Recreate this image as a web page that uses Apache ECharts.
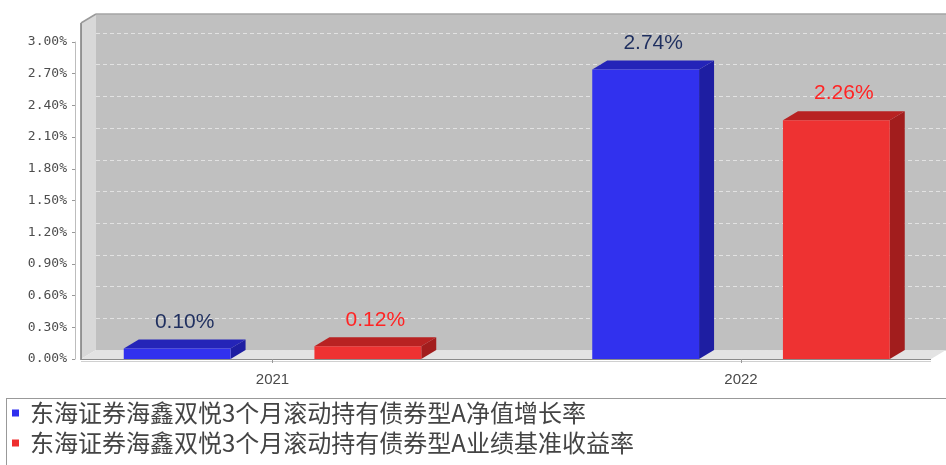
<!DOCTYPE html>
<html>
<head>
<meta charset="utf-8">
<script src="https://cdn.jsdelivr.net/npm/echarts@6/dist/echarts.min.js"></script>
<style>html,body{margin:0;padding:0;background:#fff;}#c{width:946px;height:465px;}</style>
</head>
<body>
<div id="c"></div>
<script>
const categories = ['2021', '2022'];
const seriesNames = ['东海证券海鑫双悦3个月滚动持有债券型A净值增长率', '东海证券海鑫双悦3个月滚动持有债券型A业绩基准收益率'];
const navGrowth = [0.10, 2.74];
const benchmark = [0.12, 2.26];
const yTicks = { min: 0, max: 3.0, interval: 0.3 };

const DX = 15, DY = -9;

function make3D(sign, front, top, side, labelColor) {
  return function (params, api) {
    const ci = api.value(0), v = api.value(1);
    const pTop = api.coord([ci, v]);
    const pBase = api.coord([ci, 0]);
    const band = api.size([1, 0])[0];
    const w = band * 0.228;
    const cx = pTop[0] + sign * band * 0.2035;
    const x0 = cx - w / 2, x1 = cx + w / 2, yT = pTop[1], yB = pBase[1];
    return {
      type: 'group',
      children: [
        { type: 'polygon', shape: { points: [[x1, yT], [x1 + DX, yT + DY], [x1 + DX, yB + DY], [x1, yB]] }, style: { fill: side } },
        { type: 'polygon', shape: { points: [[x0, yT], [x0 + DX, yT + DY], [x1 + DX, yT + DY], [x1, yT]] }, style: { fill: top } },
        { type: 'rect', shape: { x: x0, y: yT, width: w, height: yB - yT }, style: { fill: front } },
        { type: 'text', x: cx + DX / 2, y: yT - 16,
          style: { text: v.toFixed(2) + '%', fill: labelColor, font: '21px "Liberation Sans", Arial, sans-serif', textAlign: 'center', textVerticalAlign: 'bottom' } }
      ]
    };
  };
}

const chart = echarts.init(document.getElementById('c'));
chart.setOption({
  animation: false,
  backgroundColor: '#fff',
  graphic: [
    { type: 'rect', z: -10, shape: { x: 96, y: 14, width: 850, height: 336 }, style: { fill: '#c0c0c0' } },
    { type: 'polygon', z: -9, shape: { points: [[81, 23], [96, 14], [96, 350], [81, 359]] }, style: { fill: '#d8d8d8' } },
    { type: 'polygon', z: -9, shape: { points: [[81, 359], [96, 350], [946, 350], [931, 359]] }, style: { fill: '#e3e3e3' } },
    { type: 'line', z: -8, shape: { x1: 81, y1: 23, x2: 81, y2: 360 }, style: { stroke: '#7a7a7a', lineWidth: 1.5 } },
    { type: 'line', z: -8, shape: { x1: 81, y1: 23, x2: 96, y2: 14 }, style: { stroke: '#9a9a9a', lineWidth: 1.5 } },
    { type: 'line', z: -8, shape: { x1: 96, y1: 14, x2: 946, y2: 14 }, style: { stroke: '#a5a5a5', lineWidth: 1.5 } },
    { type: 'line', z: -8, shape: { x1: 81, y1: 359.5, x2: 931, y2: 359.5 }, style: { stroke: '#8a8a8a', lineWidth: 1.2 } },
    { type: 'line', z: -8, shape: { x1: 81, y1: 361.5, x2: 931, y2: 361.5 }, style: { stroke: '#d0d0d0', lineWidth: 1 } },
    { type: 'line', z: -8, shape: { x1: 6, y1: 398.5, x2: 946, y2: 398.5 }, style: { stroke: '#999', lineWidth: 1 } },
    { type: 'line', z: -8, shape: { x1: 6.5, y1: 398, x2: 6.5, y2: 465 }, style: { stroke: '#999', lineWidth: 1 } }
  ],
  grid: [
    { left: 272.5, right: 205, top: 42, bottom: 106 },
    { left: 75, right: 14, top: 42, bottom: 106 },
    { left: 96, right: 0, top: 33, bottom: 115 }
  ],
  xAxis: [
    { gridIndex: 0, type: 'category', data: categories, boundaryGap: false,
      axisLine: { show: false },
      axisTick: { show: true, length: 4, lineStyle: { color: '#999' } },
      axisLabel: { margin: 13, color: '#4a4a4a', fontSize: 15, fontFamily: '"Liberation Sans", Arial, sans-serif' } },
    { gridIndex: 1, type: 'category', data: categories, show: false },
    { gridIndex: 2, type: 'category', data: categories, show: false }
  ],
  yAxis: [
    { gridIndex: 0, type: 'value', min: yTicks.min, max: yTicks.max, interval: yTicks.interval, show: false },
    { gridIndex: 1, type: 'value', min: yTicks.min, max: yTicks.max, interval: yTicks.interval,
      axisLine: { show: true, lineStyle: { color: '#bdbdbd' } },
      axisTick: { show: true, length: 3, lineStyle: { color: '#999' } },
      splitLine: { show: false },
      axisLabel: { margin: 8, color: '#4d4d4d', fontSize: 13, fontFamily: '"DejaVu Sans Mono", monospace',
        formatter: v => v.toFixed(2) + '%' } },
    { gridIndex: 2, type: 'value', min: yTicks.min, max: yTicks.max, interval: yTicks.interval,
      axisLine: { show: false }, axisTick: { show: false }, axisLabel: { show: false },
      splitLine: { show: true, lineStyle: { color: '#e2e2e2', type: [4, 3], width: 1 } } }
  ],
  legend: {
    orient: 'vertical', left: 12, top: 401, padding: 0, itemGap: 6,
    itemWidth: 7, itemHeight: 7, icon: 'rect', selectedMode: false,
    data: seriesNames,
    textStyle: { fontSize: 24, lineHeight: 24, color: '#444', padding: [0, 0, 0, 6],
      fontFamily: '"Noto Sans CJK SC", sans-serif' }
  },
  series: [
    { name: seriesNames[0], type: 'custom', xAxisIndex: 0, yAxisIndex: 0,
      itemStyle: { color: '#2f2fee' },
      encode: { x: 0, y: 1 },
      data: navGrowth.map((v, i) => [i, v]),
      renderItem: make3D(-1, '#3131ee', '#2424b8', '#1e1ea2', '#1f2f5f') },
    { name: seriesNames[1], type: 'custom', xAxisIndex: 0, yAxisIndex: 0,
      itemStyle: { color: '#ee2e2e' },
      encode: { x: 0, y: 1 },
      data: benchmark.map((v, i) => [i, v]),
      renderItem: make3D(1, '#ee3232', '#b82222', '#a21d1d', '#ff2424') }
  ]
});
</script>
</body>
</html>
